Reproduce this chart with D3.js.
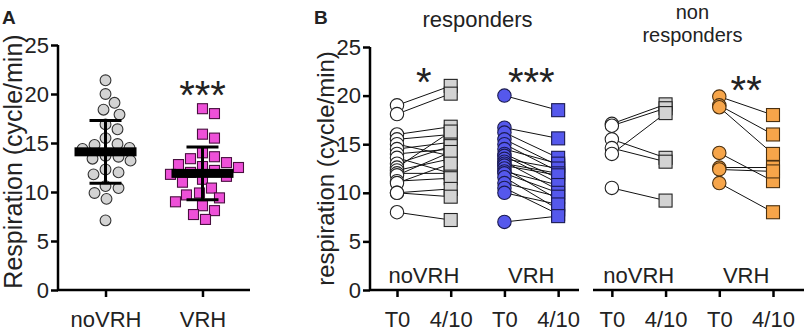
<!DOCTYPE html>
<html>
<head>
<meta charset="utf-8">
<script src="https://cdnjs.cloudflare.com/ajax/libs/d3/7.8.5/d3.min.js"></script>
<style>
  body { margin: 0; background: #fff; }
  text { font-family: "Liberation Sans", Arial, sans-serif; fill: #222; }
</style>
</head>
<body>
<div id="chart"></div>
<script>
// loading data
// panel A: all subjects
var groupsA = ["noVRH", "VRH"];
var aNoVRH = [21.4, 20.0, 19.1, 18.4, 17.9, 16.9, 16.4, 15.5, 14.9, 14.8, 14.5, 14.4,
              13.7, 13.6, 13.4, 13.2, 12.3, 12.0, 11.8, 10.6, 10.4, 9.9, 9.3, 7.1];
var aVRH = [18.5, 18.0, 15.9, 15.5, 14.0, 13.6, 13.4, 13.0, 12.8, 12.6, 12.5, 12.2, 12.0,
            11.8, 11.6, 11.3, 11.0, 10.4, 9.9, 9.7, 9.4, 9.0, 8.6, 8.1, 7.7, 7.2];
var aMean = [14.1, 11.9];
var aSD = [3.2, 2.7];
var aStars = ["", "***"];

// panel B: paired T0 -> 4/10
var timeLabels = ["T0", "4/10", "T0", "4/10", "T0", "4/10", "T0", "4/10"];
var groupLabelsB = ["noVRH", "VRH", "noVRH", "VRH"];
var starsB = ["*", "***", "", "**"];
var titlesB = [["responders"], ["non", "responders"]];

var respNoT0 = [19.0, 18.1, 16.0, 15.5, 15.0, 14.5, 14.0, 13.6, 13.0, 12.6, 12.3, 12.0, 11.8, 11.2, 11.0, 10.0, 10.0, 8.0];
var respNoT4 = [21.0, 20.2, 16.8, 16.0, 13.8, 15.2, 14.5, 12.0, 14.8, 16.3, 13.5, 12.0, 14.2, 11.5, 13.0, 10.4, 9.6, 7.2];
var respVrhT0 = [20.0, 16.7, 16.2, 15.5, 15.0, 14.5, 14.0, 13.8, 13.5, 13.2, 13.0, 12.8, 12.5, 12.2, 12.0, 11.6, 11.0, 10.5, 10.0, 7.0];
var respVrhT4 = [18.5, 15.6, 13.6, 12.8, 12.2, 13.0, 11.5, 11.0, 12.5, 10.3, 12.0, 11.8, 9.3, 10.8, 10.0, 8.3, 9.6, 7.8, 8.8, 7.6];
var nonNoT0 = [17.1, 16.9, 15.5, 14.6, 14.0, 10.5];
var nonNoT4 = [19.1, 18.7, 13.6, 13.2, 18.2, 9.2];
var nonVrhT0 = [19.9, 19.0, 18.8, 14.1, 12.6, 12.4, 11.0];
var nonVrhT4 = [18.0, 16.0, 14.0, 11.2, 12.6, 12.2, 8.0];

var pairsB = [
  { t0: respNoT0, t4: respNoT4, fill: "#ffffff", fill4: "#d3d3d3", stroke: "#222" },
  { t0: respVrhT0, t4: respVrhT4, fill: "#5558ec", fill4: "#5558ec", stroke: "#1a1a50" },
  { t0: nonNoT0, t4: nonNoT4, fill: "#ffffff", fill4: "#d3d3d3", stroke: "#222" },
  { t0: nonVrhT0, t4: nonVrhT4, fill: "#f6a54a", fill4: "#f6a54a", stroke: "#4a3010" }
];

var svg = d3.select("#chart")
  .append("svg")
  .attr("width", 804)
  .attr("height", 332);

var fs = 22;

// ---------------- panel A ----------------
var yA = d3.scaleLinear().domain([0, 25]).range([290, 45]);
var xA = d3.scalePoint().domain(groupsA).range([58, 250]).padding(0.49);

var gA = svg.append("g");

gA.append("g")
  .attr("transform", "translate(58,0)")
  .call(d3.axisLeft(yA).tickValues([0, 5, 10, 15, 20, 25]).tickSize(7).tickPadding(2))
  .call(function(g) {
    g.select(".domain").attr("stroke-width", 2.5).attr("d", "M0," + yA(25) + "V" + yA(0));
    g.selectAll(".tick line").attr("stroke-width", 2.5);
    g.selectAll("text").attr("font-size", fs).style("fill", "#222");
  });

gA.append("g")
  .attr("transform", "translate(0,290)")
  .call(d3.axisBottom(xA).tickSize(7).tickPadding(14))
  .call(function(g) {
    g.select(".domain").attr("stroke-width", 2.5).attr("d", "M57,0H250");
    g.selectAll(".tick line").attr("stroke-width", 2.5);
    g.selectAll("text").attr("font-size", fs).style("fill", "#222");
  });

gA.append("text")
  .attr("transform", "translate(22," + ((yA(25) + yA(0)) / 2 - 6) + ") rotate(-90)")
  .attr("text-anchor", "middle")
  .attr("font-size", 25)
  .text("Respiration (cycle/min)");

gA.append("text").attr("x", 2).attr("y", 24).attr("font-size", 19).attr("font-weight", "bold").text("A");

// simple beeswarm: nearest free horizontal offset
function swarm(values, cx, dist) {
  var placed = [];
  values.slice().sort(function(a, b) { return b - a; }).forEach(function(v) {
    var py = yA(v), best = null;
    for (var k = 0; k <= 60; k++) {
      var offs = k === 0 ? [0] : [k, -k];
      for (var j = 0; j < offs.length; j++) {
        var px = cx + offs[j];
        var ok = placed.every(function(p) {
          return (p.x - px) * (p.x - px) + (p.y - py) * (p.y - py) >= dist * dist;
        });
        if (ok) { best = px; break; }
      }
      if (best !== null) break;
    }
    placed.push({ x: best, y: py, v: v });
  });
  return placed;
}

var swNo = swarm(aNoVRH, xA("noVRH"), 12.5);
gA.selectAll(".dotA").data(swNo).enter().append("circle")
  .attr("class", "dotA")
  .attr("cx", function(d) { return d.x; })
  .attr("cy", function(d) { return d.y; })
  .attr("r", 5.4)
  .attr("fill", "#d3d3d3")
  .attr("stroke", "#333")
  .attr("stroke-width", 1.1);

var swV = swarm(aVRH, xA("VRH"), 12.5);
gA.selectAll(".sqA").data(swV).enter().append("rect")
  .attr("class", "sqA")
  .attr("x", function(d) { return d.x - 5; })
  .attr("y", function(d) { return d.y - 5; })
  .attr("width", 10)
  .attr("height", 10)
  .attr("fill", "#ee50d8")
  .attr("stroke", "#4a1040")
  .attr("stroke-width", 1.1);

// mean and SD
groupsA.forEach(function(gname, i) {
  var cx = xA(gname);
  gA.append("line")
    .attr("x1", cx).attr("x2", cx)
    .attr("y1", yA(aMean[i] + aSD[i])).attr("y2", yA(aMean[i] - aSD[i]))
    .attr("stroke", "#000").attr("stroke-width", 3);
  [aMean[i] + aSD[i], aMean[i] - aSD[i]].forEach(function(v) {
    gA.append("line")
      .attr("x1", cx - 16).attr("x2", cx + 16)
      .attr("y1", yA(v)).attr("y2", yA(v))
      .attr("stroke", "#000").attr("stroke-width", 3);
  });
  gA.append("rect")
    .attr("x", cx - 31).attr("width", 62)
    .attr("y", yA(aMean[i]) - 4.5).attr("height", 9)
    .attr("fill", "#000");
  gA.append("text")
    .attr("x", cx).attr("y", 109)
    .attr("text-anchor", "middle")
    .attr("font-size", 40)
    .text(aStars[i]);
});

// ---------------- panel B ----------------
var yB = d3.scaleLinear().domain([0, 25]).range([290, 47]);
var xB = d3.scaleLinear().domain([0, 7]).range([397, 773]);

var gB = svg.append("g");

gB.append("g")
  .attr("transform", "translate(370,0)")
  .call(d3.axisLeft(yB).tickValues([0, 5, 10, 15, 20, 25]).tickSize(7).tickPadding(2))
  .call(function(g) {
    g.select(".domain").attr("stroke-width", 2.5).attr("d", "M0," + yB(25) + "V" + yB(0));
    g.selectAll(".tick line").attr("stroke-width", 2.5);
    g.selectAll("text").attr("font-size", fs).style("fill", "#222");
  });

// two broken x axis segments
[[0, 3, 370, 579], [4, 7, 593, 804]].forEach(function(seg) {
  var sub = d3.scaleLinear().domain([seg[0], seg[1]]).range([xB(seg[0]), xB(seg[1])]);
  gB.append("g")
    .attr("transform", "translate(0,290)")
    .call(d3.axisBottom(sub).tickValues(d3.range(seg[0], seg[1] + 1))
      .tickFormat(function(d) { return timeLabels[d]; })
      .tickSize(7).tickPadding(14))
    .call(function(g) {
      g.select(".domain").attr("stroke-width", 2.5).attr("d", "M" + seg[2] + ",0H" + seg[3]);
      g.selectAll(".tick line").attr("stroke-width", 2.5);
      g.selectAll("text").attr("font-size", fs).style("fill", "#222");
    });
});

gB.append("text")
  .attr("transform", "translate(334," + ((yB(25) + yB(0)) / 2) + ") rotate(-90)")
  .attr("text-anchor", "middle")
  .attr("font-size", 24)
  .text("respiration (cycle/min)");

gB.append("text").attr("x", 314).attr("y", 24).attr("font-size", 19).attr("font-weight", "bold").text("B");

// titles
titlesB.forEach(function(lines, i) {
  var cx = (xB(i * 4) + xB(i * 4 + 3)) / 2;
  var one = lines.length === 1;
  lines.forEach(function(t, j) {
    gB.append("text")
      .attr("x", cx).attr("y", one ? 27 : 19 + j * 23)
      .attr("text-anchor", "middle")
      .attr("font-size", one ? 22 : 20)
      .text(t);
  });
});

pairsB.forEach(function(p, i) {
  var x0 = xB(i * 2), x1 = xB(i * 2 + 1);
  var rows = p.t0.map(function(v, k) { return { a: v, b: p.t4[k] }; });

  gB.selectAll(".ln" + i).data(rows).enter().append("line")
    .attr("class", "ln" + i)
    .attr("x1", x0).attr("x2", x1)
    .attr("y1", function(d) { return yB(d.a); })
    .attr("y2", function(d) { return yB(d.b); })
    .attr("stroke", "#111").attr("stroke-width", 1);

  gB.selectAll(".sq" + i).data(rows).enter().append("rect")
    .attr("class", "sq" + i)
    .attr("x", x1 - 6.5).attr("width", 13)
    .attr("y", function(d) { return yB(d.b) - 6.5; }).attr("height", 13)
    .attr("fill", p.fill4).attr("stroke", p.stroke).attr("stroke-width", 1.1);

  gB.selectAll(".ci" + i).data(rows).enter().append("circle")
    .attr("class", "ci" + i)
    .attr("cx", x0)
    .attr("cy", function(d) { return yB(d.a); })
    .attr("r", 6.7)
    .attr("fill", p.fill).attr("stroke", p.stroke).attr("stroke-width", 1.1);

  gB.append("text")
    .attr("x", (x0 + x1) / 2).attr("y", 283)
    .attr("text-anchor", "middle")
    .attr("font-size", fs)
    .text(groupLabelsB[i]);

  gB.append("text")
    .attr("x", (x0 + x1) / 2).attr("y", i === 3 ? 104 : 96)
    .attr("text-anchor", "middle")
    .attr("font-size", 40)
    .text(starsB[i]);
});
</script>
</body>
</html>
